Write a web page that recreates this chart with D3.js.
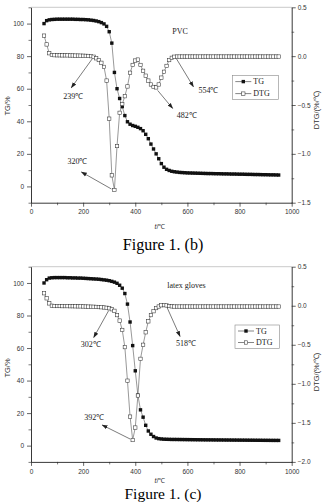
<!DOCTYPE html>
<html><head><meta charset="utf-8">
<script src="https://cdn.jsdelivr.net/npm/d3@7"></script>
<style>body{margin:0;background:#fff}svg{display:block}</style>
</head><body>
<script>
// ---- data ----
const temps = [50,60,70,80,90,100,110,120,130,140,150,160,170,180,190,200,210,220,230,240,250,260,270,280,290,300,310,320,330,340,350,360,370,380,390,400,410,420,430,440,450,460,470,480,490,500,510,520,530,540,550,560,570,580,590,600,610,620,630,640,650,660,670,680,690,700,710,720,730,740,750,760,770,780,790,800,810,820,830,840,850,860,870,880,890,900,910,920,930,940,950];

const pvcTG = [100,101.8,102.3,102.5,102.6,102.7,102.7,102.7,102.7,102.7,102.7,102.7,102.6,102.6,102.5,102.5,102.4,102.3,102.1,101.9,101.6,101.2,100.6,99.8,98.3,95,88,70,60,54,49,43.5,39.7,38.2,37.4,36.9,36.3,35.5,34.2,32,29.3,26,23,20,17,14,11.8,10.5,9.8,9.3,9,8.8,8.6,8.5,8.4,8.3,8.25,8.2,8.15,8.1,8.05,8,7.95,7.9,7.9,7.85,7.8,7.8,7.75,7.7,7.7,7.65,7.6,7.6,7.55,7.5,7.5,7.45,7.4,7.4,7.35,7.3,7.3,7.25,7.2,7.2,7.15,7.1,7.1,7.05,7];
const pvcDTG = [0.21,0.12,0.03,0.012,0.01,0.009,0.009,0.008,0.008,0.008,0.007,0.007,0.006,0.006,0.005,0.004,0.003,0.002,0,-0.006,-0.022,-0.04,-0.068,-0.11,-0.25,-0.64,-1.22,-1.37,-0.92,-0.58,-0.49,-0.41,-0.31,-0.17,-0.09,-0.045,-0.035,-0.09,-0.15,-0.2,-0.25,-0.29,-0.315,-0.32,-0.29,-0.22,-0.16,-0.1,-0.04,-0.017,-0.006,-0.004,-0.004,-0.004,-0.004,-0.004,-0.004,-0.004,-0.004,-0.004,-0.004,-0.004,-0.004,-0.004,-0.004,-0.004,-0.004,-0.004,-0.004,-0.004,-0.004,-0.004,-0.004,-0.004,-0.004,-0.004,-0.004,-0.004,-0.004,-0.004,-0.004,-0.004,-0.004,-0.004,-0.004,-0.004,-0.004,-0.004,-0.004,-0.004,-0.004];

const latexTG = [100,102,103,103.2,103.3,103.3,103.3,103.3,103.3,103.2,103.2,103.1,103.1,103,103,102.9,102.8,102.7,102.6,102.5,102.4,102.3,102.1,101.9,101.7,101.4,101,100.5,99.8,98.6,96.8,93.5,87,76,61.5,46,31,22,17.5,12.5,9,7,5.6,4.7,4.3,4.1,3.95,3.9,3.85,3.8,3.8,3.78,3.76,3.74,3.72,3.7,3.68,3.66,3.64,3.62,3.6,3.58,3.56,3.55,3.54,3.52,3.5,3.49,3.48,3.46,3.45,3.44,3.42,3.41,3.4,3.38,3.37,3.36,3.34,3.33,3.32,3.3,3.29,3.28,3.26,3.25,3.24,3.22,3.21,3.2,3.2];
const latexDTG = [0.16,0.095,0.03,0,-0.004,-0.004,-0.004,-0.005,-0.005,-0.005,-0.006,-0.006,-0.007,-0.008,-0.008,-0.009,-0.01,-0.011,-0.012,-0.013,-0.015,-0.017,-0.019,-0.022,-0.026,-0.032,-0.045,-0.065,-0.12,-0.19,-0.31,-0.53,-0.96,-1.42,-1.72,-1.56,-1.15,-0.68,-0.5,-0.34,-0.2,-0.12,-0.07,-0.03,-0.01,0.006,0.008,0.004,-0.004,-0.008,-0.01,-0.01,-0.01,-0.01,-0.01,-0.01,-0.01,-0.01,-0.01,-0.01,-0.01,-0.01,-0.01,-0.01,-0.01,-0.01,-0.01,-0.01,-0.01,-0.01,-0.01,-0.01,-0.01,-0.01,-0.01,-0.01,-0.01,-0.01,-0.01,-0.01,-0.01,-0.01,-0.01,-0.01,-0.01,-0.01,-0.01,-0.01,-0.01,-0.01,-0.01];

const xTicks = [0,200,400,600,800,1000];
const tgTicks = [0,20,40,60,80,100];
const pvcDtgTicks = [0.5,0.0,-0.5,-1.0,-1.5];
const latexDtgTicks = [0.5,0.0,-0.5,-1.0,-1.5,-2.0];
const pvcNotes = [{t:239,v:-0.006,label:"239℃"},{t:320,v:-1.37,label:"320℃"},{t:482,v:-0.32,label:"482℃"},{t:554,v:-0.006,label:"554℃"}];
const latexNotes = [{t:302,v:-0.035,label:"302℃"},{t:392,v:-1.72,label:"392℃"},{t:518,v:0.004,label:"518℃"}];

// ---- drawing ----
const W = 324, H = 502;
const svg = d3.select("body").append("svg").attr("width", W).attr("height", H);
const defs = svg.append("defs");
defs.append("marker").attr("id","arr").attr("viewBox","0 0 10 10").attr("refX",9).attr("refY",5)
  .attr("markerWidth",6).attr("markerHeight",6).attr("orient","auto-start-reverse").attr("markerUnits","userSpaceOnUse")
  .append("path").attr("d","M0,1.5 L10,5 L0,8.5 Z").attr("fill","#222");

const serif = "'Liberation Serif','Times New Roman',serif";
const sans = "'Liberation Sans',Arial,sans-serif";

function panel(o) {
  const left = 31, right = 291.7;
  const x = d3.scaleLinear().domain([0,1000]).range([left,right]);
  const yL = d3.scaleLinear().domain([-10,110]).range([o.bottom,o.top]);
  const yR = d3.scaleLinear().domain(o.dtgDomain).range([o.bottom,o.top]);
  const g = svg.append("g");

  // frame top
  g.append("line").attr("x1",left).attr("x2",right).attr("y1",o.top).attr("y2",o.top).attr("stroke","#bbb").attr("stroke-width",0.8);

  const styleAxis = sel => {
    sel.select(".domain").attr("stroke","#222").attr("stroke-width",0.9);
    sel.selectAll(".tick line").attr("stroke","#222").attr("stroke-width",0.7);
    sel.selectAll("text").attr("font-family",sans).attr("font-size",6.5).attr("fill","#333");
  };
  // minor ticks
  const minor = (axis, scale, vals, tr) => {
    g.append("g").attr("transform",tr).call(axis(scale).tickValues(vals).tickSize(2.5).tickFormat(""))
      .call(s=>{s.select(".domain").remove(); s.selectAll(".tick line").attr("stroke","#222").attr("stroke-width",0.6);});
  };
  minor(d3.axisBottom, x, [100,300,500,700,900], `translate(0,${o.bottom})`);
  minor(d3.axisLeft, yL, [-10,10,30,50,70,90,110], `translate(${left},0)`);
  minor(d3.axisRight, yR, o.dtgMinor, `translate(${right},0)`);

  g.append("g").attr("transform",`translate(0,${o.bottom})`)
    .call(d3.axisBottom(x).tickValues(xTicks).tickSize(4).tickSizeOuter(0).tickPadding(3).tickFormat(d3.format("d"))).call(styleAxis);
  g.append("g").attr("transform",`translate(${left},0)`)
    .call(d3.axisLeft(yL).tickValues(tgTicks).tickSize(4).tickSizeOuter(0).tickPadding(3)).call(styleAxis);
  g.append("g").attr("transform",`translate(${right},0)`)
    .call(d3.axisRight(yR).tickValues(o.dtgTicks).tickSize(4).tickSizeOuter(0).tickPadding(2).tickFormat(d3.format(".1f"))).call(styleAxis);

  // axis titles
  g.append("text").attr("transform",`translate(10,${o.tgLabelY}) rotate(-90)`).attr("text-anchor","middle")
    .attr("font-family",sans).attr("font-size",7.5).attr("fill","#333").text("TG/%");
  g.append("text").attr("transform",`translate(319,${o.dtgLabelY}) rotate(-90)`).attr("text-anchor","middle")
    .attr("font-family",sans).attr("font-size",7.5).attr("fill","#333").text("DTG/(%/℃)");
  const tl = g.append("text").attr("x",160).attr("y",o.bottom+o.tOff).attr("text-anchor","middle")
    .attr("font-family",sans).attr("font-size",7).attr("fill","#333");
  tl.append("tspan").attr("font-style","italic").text("t");
  tl.append("tspan").text("/℃");

  // series
  const tgPts = temps.map((t,i)=>[x(t), yL(o.tg[i])]);
  const dtgPts = temps.map((t,i)=>[x(t), yR(o.dtg[i])]);
  const line = d3.line();
  g.append("path").attr("d",line(tgPts)).attr("fill","none").attr("stroke","#333").attr("stroke-width",0.5);
  g.append("path").attr("d",line(dtgPts)).attr("fill","none").attr("stroke","#333").attr("stroke-width",0.5);
  const s1 = 3.4, s2 = 3.4;
  g.append("g").selectAll("rect").data(tgPts).join("rect")
    .attr("x",d=>d[0]-s1/2).attr("y",d=>d[1]-s1/2).attr("width",s1).attr("height",s1).attr("fill","#111");
  g.append("g").selectAll("rect").data(dtgPts).join("rect")
    .attr("x",d=>d[0]-s2/2).attr("y",d=>d[1]-s2/2).attr("width",s2).attr("height",s2)
    .attr("fill","#fff").attr("stroke","#333").attr("stroke-width",0.55);

  // annotations
  o.notes.forEach((n,i)=>{
    const a = o.arrows[i];
    const x0 = x(n.t), y0 = yR(n.v);
    g.append("line").attr("x1",x0+a.sx).attr("y1",y0+a.sy).attr("x2",x0+a.dx).attr("y2",y0+a.dy)
      .attr("stroke","#222").attr("stroke-width",0.6).attr("marker-end","url(#arr)");
    g.append("text").attr("x",x0+a.tx).attr("y",y0+a.ty).attr("font-family",serif).attr("font-size",8)
      .attr("fill","#222").text(n.label);
  });

  // title
  g.append("text").attr("x",o.titleX).attr("y",o.titleY).attr("text-anchor","middle").attr("font-family",serif)
    .attr("font-size",8).attr("fill","#222").text(o.title);

  // legend
  const L = o.legend;
  g.append("rect").attr("x",L.x).attr("y",L.y).attr("width",L.w).attr("height",L.h).attr("fill","#fff")
    .attr("stroke","#888").attr("stroke-width",0.6);
  [["TG",true],["DTG",false]].forEach(([name,filled],k)=>{
    const yy = L.y + L.r[k];
    g.append("line").attr("x1",L.x+3).attr("x2",L.x+19).attr("y1",yy).attr("y2",yy).attr("stroke","#333").attr("stroke-width",0.6);
    g.append("rect").attr("x",L.x+11-1.7).attr("y",yy-1.7).attr("width",3.4).attr("height",3.4)
      .attr("fill",filled?"#111":"#fff").attr("stroke","#333").attr("stroke-width",filled?0:0.55);
    g.append("text").attr("x",L.x+21).attr("y",yy+2.8).attr("font-family",serif).attr("font-size",8).attr("fill","#222").text(name);
  });

  // caption
  svg.append("text").attr("x",163).attr("y",o.captionY).attr("text-anchor","middle").attr("font-family",serif)
    .attr("font-size",o.capSize).attr("fill","#000").text(o.caption);
}

panel({
  top:7.3, bottom:202.7, dtgDomain:[-1.5,0.5], dtgTicks:pvcDtgTicks, dtgMinor:[0.25,-0.25,-0.75,-1.25],
  tg:pvcTG, dtg:pvcDTG, notes:pvcNotes,
  arrows:[{sx:-1,sy:2,dx:-22,dy:31,tx:-30,ty:42},{sx:-3,sy:-1,dx:-33,dy:-18,tx:-47,ty:-26},
          {sx:1,sy:3,dx:16,dy:21,tx:20,ty:31},{sx:1,sy:2,dx:18,dy:30,tx:23,ty:36}],
  title:"PVC", titleX:180, titleY:33.5,
  legend:{x:232.3,y:75.3,w:46,h:24,r:[6.3,18.3]},
  tgLabelY:106, dtgLabelY:110, tOff:26, caption:"Figure 1. (b)", captionY:249.5, capSize:16
});
panel({
  top:266.7, bottom:461.9, dtgDomain:[-2.0,0.5], dtgTicks:latexDtgTicks, dtgMinor:[0.25,-0.25,-0.75,-1.25,-1.75],
  tg:latexTG, dtg:latexDTG, notes:latexNotes,
  arrows:[{sx:-1,sy:2,dx:-16,dy:29,tx:-29,ty:39},{sx:-3,sy:-1,dx:-31,dy:-15,tx:-49,ty:-20},
          {sx:1,sy:2,dx:14,dy:31,tx:10,ty:41}],
  title:"latex gloves", titleX:186.5, titleY:288,
  legend:{x:235,y:325,w:44.3,h:23.3,r:[6,17.5]},
  tgLabelY:368, dtgLabelY:372, tOff:21, caption:"Figure 1. (c)", captionY:498.5, capSize:15.5
});
</script>
</body></html>
